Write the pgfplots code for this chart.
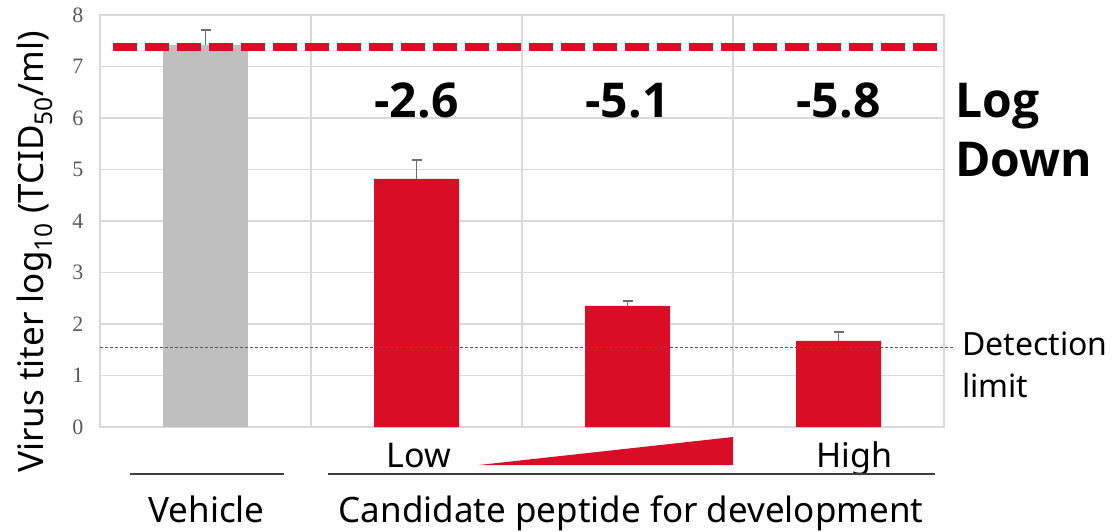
\documentclass[border=0pt]{standalone}
\usepackage{fontspec}
\usepackage{pgfplots}
\pgfplotsset{compat=1.18}
\setmainfont{Noto Sans}
\newfontfamily\heavy{Open Sans}
\newfontfamily\tickfont{Liberation Serif}

\definecolor{barred}{RGB}{218,13,39}
\definecolor{bargray}{RGB}{191,191,191}
\definecolor{gridgray}{RGB}{217,217,217}
\definecolor{tickgray}{RGB}{89,89,89}
\definecolor{errgray}{RGB}{110,110,110}

\newcommand{\fs}[1]{\fontsize{#1}{#1}\selectfont}

\begin{document}
\begin{tikzpicture}
\useasboundingbox (0,0) rectangle (1114pt,531pt);
\begin{axis}[
at={(100pt,104pt)}, anchor=south west,
scale only axis, width=844pt, height=412pt,
xmin=-0.5, xmax=3.5, ymin=0, ymax=8,
xtick={-0.5,0.5,1.5,2.5,3.5}, xticklabels={},
ytick={0,1,2,3,4,5,6,7,8},
xmajorgrids, ymajorgrids,
grid style={draw=gridgray, line width=1.5pt},
axis line style={draw=gridgray, line width=1.5pt},
major tick length=0pt,
/pgf/number format/assume math mode=true,
yticklabel style={font=\tickfont\fs{22}, text=tickgray, xshift=-13pt},
clip=false,
]
\addplot[ybar, bar shift=0pt, bar width=85pt, fill=bargray, draw=none,
  error bars/.cd, y dir=plus, y explicit,
  error bar style={errgray, line width=1.5pt},
  error mark options={errgray, rotate=90, mark size=5pt, line width=1.5pt}]
coordinates {(0,7.42) +- (0,0.29)};
\addplot[ybar, bar shift=0pt, bar width=85pt, fill=barred, draw=none,
  error bars/.cd, y dir=plus, y explicit,
  error bar style={errgray, line width=1.5pt},
  error mark options={errgray, rotate=90, mark size=5pt, line width=1.5pt}]
coordinates {(1,4.82) +- (0,0.36) (2,2.35) +- (0,0.10) (3,1.67) +- (0,0.17)};
% reference level of vehicle
\addplot[barred, line width=8pt, dash pattern=on 24pt off 8pt]
coordinates {(-0.438,7.37) (3.467,7.37)};
% detection limit
\addplot[tickgray, line width=1pt, dash pattern=on 3pt off 2pt]
coordinates {(-0.5,1.54) (3.552,1.54)};
\node[anchor=base, font=\heavy\bfseries\fs{48}] at (axis cs:1,6) {-2.6};
\node[anchor=base, font=\heavy\bfseries\fs{48}] at (axis cs:2,6) {-5.1};
\node[anchor=base, font=\heavy\bfseries\fs{48}] at (axis cs:3,6) {-5.8};
\end{axis}

\node[anchor=base west, font=\heavy\bfseries\fs{48}, inner sep=0pt] at (955pt,413pt) {Log};
\node[anchor=base west, font=\heavy\bfseries\fs{48}, inner sep=0pt] at (955pt,354pt) {Down};
\node[anchor=base west, font=\fs{32}, inner sep=0pt] at (962pt,176pt) {Detection};
\node[anchor=base west, font=\fs{32}, inner sep=0pt] at (962pt,134pt) {limit};

\node[anchor=base, rotate=90, font=\fs{35}, inner sep=0pt] at (43pt,279pt)
  {Virus titer log\textsubscript{10} (TCID\textsubscript{50}/ml)};

\node[anchor=base, font=\fs{34}, inner sep=0pt] at (418.5pt,64pt) {Low};
\node[anchor=base, font=\fs{34}, inner sep=0pt] at (854.5pt,64pt) {High};
\fill[barred] (479pt,66pt) -- (733pt,66pt) -- (733pt,94pt) -- cycle;

\draw[black!75, line width=1.5pt] (130pt,57pt) -- (284pt,57pt);
\draw[black!75, line width=1.5pt] (328pt,57pt) -- (935pt,57pt);
\node[anchor=base, font=\fs{35}, inner sep=0pt] at (206.5pt,9pt) {Vehicle};
\node[anchor=base, font=\fs{35}, inner sep=0pt] at (631pt,9pt) {Candidate peptide for development};
\end{tikzpicture}
\end{document}
